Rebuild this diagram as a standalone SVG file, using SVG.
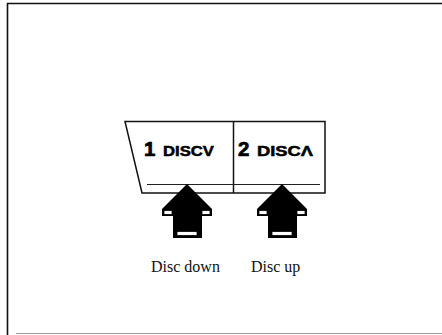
<svg xmlns="http://www.w3.org/2000/svg" xmlns:xlink="http://www.w3.org/1999/xlink" width="442" height="335" viewBox="0 0 442 335">
  <style>
    .frame { fill: none; stroke: #111; stroke-width: 1.6; }
    .frame-bottom { fill: none; stroke: #9a9a9a; stroke-width: 1; }
    .outline { fill: none; stroke: #111; stroke-width: 1.5; stroke-linejoin: miter; }
    .inner { fill: none; stroke: #222; stroke-width: 1.1; }
    .big { font-family: "Liberation Sans", Arial, sans-serif; font-weight: bold; font-size: 20.5px; fill: #000; stroke: #000; stroke-width: 0.7; }
    .small { font-family: "Liberation Sans", Arial, sans-serif; font-weight: bold; font-size: 15px; fill: #000; stroke: #000; stroke-width: 0.5; }
    .label { font-family: "Liberation Serif", "Times New Roman", serif; font-size: 16px; fill: #111; }
    .arrow { fill: #000; }
    .notch { fill: #fff; stroke: #000; stroke-width: 0.8; }
  </style>
  <defs>
    <g id="bigArrow">
      <path class="arrow" d="M0,0 L-25,25 L-25,32 L-14,32 L-14,54 L15,54 L15,32 L25,32 L25,25 Z"/>
      <rect class="notch" x="-23" y="26.5" width="8" height="4"/>
      <rect class="notch" x="15" y="26.5" width="8" height="4"/>
      <rect class="notch" x="-10" y="47.5" width="20" height="4"/>
    </g>
  </defs>
  <rect width="442" height="335" fill="#fff"/>
  <g id="frame">
    <path class="frame" d="M7.5,335 V3.5 H442"/>
    <path class="frame-bottom" d="M16,333.5 H442"/>
  </g>
  <g id="button-panel">
    <path class="outline" d="M125,121.5 H325 V193 H142 Z"/>
    <line class="outline" x1="233.5" y1="121.5" x2="233.5" y2="193"/>
    <line class="inner" x1="147" y1="184.5" x2="320" y2="184.5"/>
  </g>
  <g id="key-1">
    <text class="big" x="144" y="155.5">1</text>
    <text class="small" x="163" y="155.5" textLength="51" lengthAdjust="spacingAndGlyphs">DISCV</text>
  </g>
  <g id="key-2">
    <text class="big" x="238" y="155.5">2</text>
    <text class="small" x="257" y="155.5" textLength="56" lengthAdjust="spacingAndGlyphs">DISCΛ</text>
  </g>
  <g id="connectors">
    <use id="arrow-down" xlink:href="#bigArrow" href="#bigArrow" transform="translate(187,184)"/>
    <use id="arrow-up" xlink:href="#bigArrow" href="#bigArrow" transform="translate(282,184)"/>
  </g>
  <g id="label-down">
    <text class="label" x="151" y="272">Disc down</text>
  </g>
  <g id="label-up">
    <text class="label" x="251" y="272">Disc up</text>
  </g>
</svg>
